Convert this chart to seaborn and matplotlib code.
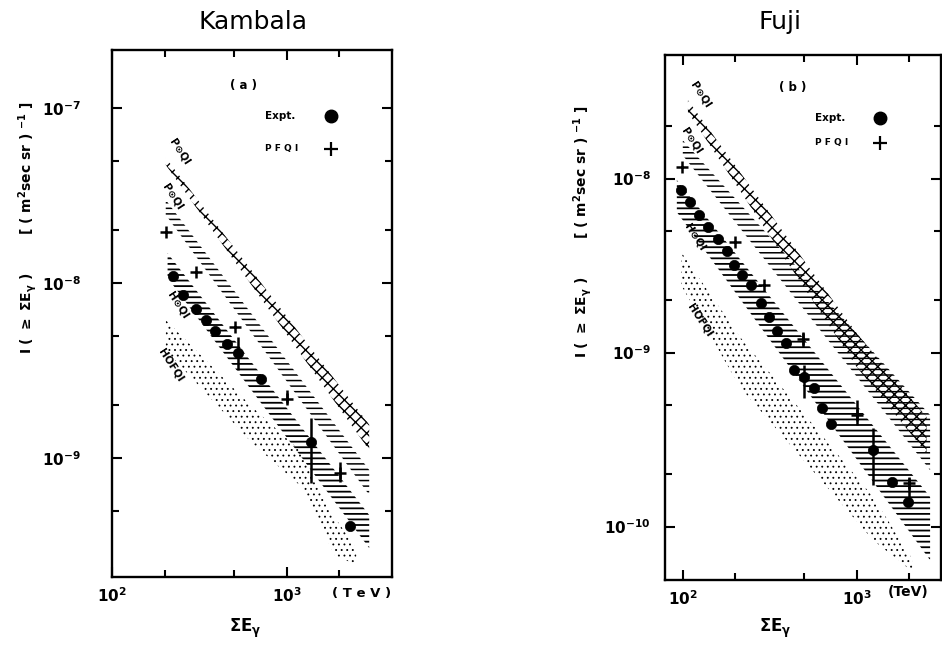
import numpy as np
import pandas as pd
import matplotlib
matplotlib.use("Agg")
import matplotlib.pyplot as plt
import seaborn as sns
from matplotlib.ticker import FixedLocator, FuncFormatter, NullFormatter
from matplotlib.lines import Line2D

# ---------------- Kambala (a) ----------------
kam_expt_E = [222, 256, 301, 343, 387, 453, 527, 711, 1374, 2290]
kam_expt_I = [1.09e-8, 8.54e-9, 7.08e-9, 6.14e-9, 5.31e-9, 4.50e-9, 3.96e-9,
              2.82e-9, 1.24e-9, 4.09e-10]
kam_expt_err_E = [527, 1374]
kam_expt_err_lo = [3.18e-9, 7.2e-10]
kam_expt_err_hi = [4.91e-9, 1.69e-9]

kam_pfqi_E = [203, 301, 508, 1000, 2010]
kam_pfqi_I = [1.96e-8, 1.15e-8, 5.58e-9, 2.18e-9, 8.2e-10]
kam_pfqi_err_E = [1000, 2010]
kam_pfqi_err_lo = [2.06e-9, 7.3e-10]
kam_pfqi_err_hi = [2.45e-9, 9.49e-10]

kam_b1_E = [203, 2962]
kam_b1_hi = [5.18e-8, 1.55e-9]
kam_b1_lo = [4.72e-8, 1.11e-9]
kam_b2_E = [203, 2962]
kam_b2_hi = [2.98e-8, 8.54e-10]
kam_b2_lo = [2.45e-8, 6.15e-10]
kam_b3_E = [208, 2962]
kam_b3_hi = [1.48e-8, 4.72e-10]
kam_b3_lo = [1.07e-8, 3.06e-10]
kam_b4_E = [203, 632, 1217, 1874, 2499]
kam_b4_hi = [6.15e-9, 1.96e-9, 1.08e-9, 4.6e-10, 3.06e-10]
kam_b4_lo = [4.14e-9, 1.22e-9, 6.83e-10, 2.79e-10, 2.45e-10]

kam_label_text = ["P\u2299QI", "P\u2299QI", "H\u2299QI", "HOFQI"]
kam_label_E = [243, 222, 237, 216]
kam_label_I = [5.61e-8, 3.1e-8, 7.49e-9, 3.40e-9]

kam_xticks = [100, 1000]
kam_xminor = [200, 500, 2000]
kam_yticks = [1e-9, 1e-8, 1e-7]
kam_yminor = [5e-10, 2e-9, 5e-9, 2e-8, 5e-8]

# ---------------- Fuji (b) ----------------
fuji_expt_E = [97.4, 110, 124, 140, 158.5, 180, 197, 218, 246, 282.5, 313, 348,
               392.5, 436, 498, 569, 630, 712, 1246, 1589, 1980]
fuji_expt_I = [8.59e-9, 7.36e-9, 6.17e-9, 5.28e-9, 4.49e-9, 3.83e-9, 3.18e-9,
               2.79e-9, 2.44e-9, 1.92e-9, 1.60e-9, 1.33e-9, 1.14e-9, 7.94e-10,
               7.2e-10, 6.22e-10, 4.78e-10, 3.88e-10, 2.75e-10, 1.81e-10, 1.39e-10]
fuji_expt_err_E = [498, 1246]
fuji_expt_err_lo = [5.48e-10, 1.73e-10]
fuji_expt_err_hi = [8.47e-10, 3.68e-10]

fuji_pfqi_E = [98.7, 200, 293, 493, 1000, 2000]
fuji_pfqi_I = [1.17e-8, 4.34e-9, 2.44e-9, 1.19e-9, 4.38e-10, 1.78e-10]
fuji_pfqi_err_E = [493, 1000, 2000]
fuji_pfqi_err_lo = [1.08e-9, 3.83e-10, 1.33e-10]
fuji_pfqi_err_hi = [1.32e-9, 5.33e-10, 1.90e-10]

fuji_b1_E = [107, 1000, 2520]
fuji_b1_hi = [2.82e-8, 1.29e-9, 4.26e-10]
fuji_b1_lo = [2.41e-8, 8.26e-10, 2.64e-10]
fuji_b2_E = [100, 2640]
fuji_b2_hi = [1.66e-8, 4.37e-10]
fuji_b2_lo = [1.36e-8, 2.11e-10]
fuji_b3_E = [92.4, 2640]
fuji_b3_hi = [9.8e-9, 1.48e-10]
fuji_b3_lo = [6.42e-9, 6.41e-11]
fuji_b4_E = [97.8, 213, 1241, 2104]
fuji_b4_hi = [3.78e-9, 1.23e-9, 1.48e-10, 6.41e-11]
fuji_b4_lo = [2.44e-9, 6.34e-10, 8.36e-11, 5.48e-11]

fuji_label_text = ["P\u2299QI", "P\u2299QI", "H\u2299QI", "HOFQI"]
fuji_label_E = [126, 113, 118, 126]
fuji_label_I = [3.02e-8, 1.66e-8, 4.61e-9, 1.54e-9]

fuji_xticks = [100, 1000]
fuji_xminor = [200, 500, 2000]
fuji_yticks = [1e-10, 1e-9, 1e-8]
fuji_yminor = [2e-10, 5e-10, 2e-9, 5e-9, 2e-8]

# ---------------- styling ----------------
sns.set_style("ticks")
plt.rcParams["font.family"] = ["DejaVu Sans"]
plt.rcParams["font.weight"] = "bold"
plt.rcParams["mathtext.default"] = "bf"
plt.rcParams["text.color"] = "black"
plt.rcParams["axes.labelcolor"] = "black"

W, H = 942, 651
fig = plt.figure(figsize=(W / 100, H / 100), dpi=100)
axL = fig.add_axes([112 / W, 1 - 577 / H, 280 / W, 527 / H])
axR = fig.add_axes([665 / W, 1 - 580 / H, 276 / W, 525 / H])


def fx(px):
    return px / W


def fy(py):
    return 1 - py / H


def decade_label(v, pos):
    e = int(round(np.log10(v)))
    return r"$\mathbf{10^{%d}}$" % e


def style_axis(ax, xlim, ylim, xt, xm, yt, ym, ypad):
    ax.set_xscale("log")
    ax.set_yscale("log")
    ax.set_xlim(*xlim)
    ax.set_ylim(*ylim)
    for sp in ax.spines.values():
        sp.set_visible(True)
        sp.set_linewidth(1.7)
        sp.set_color("black")
    for axis, major, minor in ((ax.xaxis, xt, xm), (ax.yaxis, yt, ym)):
        axis.set_major_locator(FixedLocator(major))
        axis.set_minor_locator(FixedLocator(minor))
        axis.set_minor_formatter(NullFormatter())
        axis.set_major_formatter(FuncFormatter(decade_label))
        axis.label.set_visible(False)
    ax.tick_params(which="both", direction="in", top=True, right=True,
                   width=1.5, colors="black", labelsize=11)
    ax.tick_params(which="major", length=7)
    ax.tick_params(which="minor", length=5)
    ax.tick_params(axis="y", which="major", pad=ypad)
    ax.tick_params(axis="x", which="major", pad=7)


def band(ax, E, lo, hi, hatch, lw):
    coll = ax.fill_between(E, lo, hi, facecolor="none", edgecolor="black",
                           linewidth=0, hatch=hatch)
    if hasattr(coll, "set_hatch_linewidth"):
        coll.set_hatch_linewidth(lw)
    return coll


def draw_panel(ax, bands, expt_E, expt_I, ee_E, ee_lo, ee_hi,
               pf_E, pf_I, pe_E, pe_lo, pe_hi, lab_t, lab_E, lab_I):
    hatches = [("xxx", 1.0), ("---", 1.1), ("---", 1.3), ("...", 0.6)]
    for (E, lo, hi), (h, lw) in zip(bands, hatches):
        band(ax, E, lo, hi, h, lw)

    df_expt = pd.DataFrame({"E": expt_E, "I": expt_I})
    df_pf = pd.DataFrame({"E": pf_E, "I": pf_I})
    ax.vlines(ee_E, ee_lo, ee_hi, color="black", lw=1.8)
    ax.vlines(pe_E, pe_lo, pe_hi, color="black", lw=1.8)
    sns.scatterplot(data=df_expt, x="E", y="I", ax=ax, marker="o", s=55,
                    color="black", edgecolor="black", linewidth=0.5,
                    legend=False, zorder=5)
    sns.scatterplot(data=df_pf, x="E", y="I", ax=ax, marker="+", s=75,
                    color="black", linewidth=1.8, legend=False, zorder=5)
    for t, e, i in zip(lab_t, lab_E, lab_I):
        ax.text(e, i, t, rotation=-57, ha="center", va="center",
                fontsize=7.5, fontweight="bold", zorder=6)


draw_panel(axL,
           [(kam_b1_E, kam_b1_lo, kam_b1_hi), (kam_b2_E, kam_b2_lo, kam_b2_hi),
            (kam_b3_E, kam_b3_lo, kam_b3_hi), (kam_b4_E, kam_b4_lo, kam_b4_hi)],
           kam_expt_E, kam_expt_I, kam_expt_err_E, kam_expt_err_lo, kam_expt_err_hi,
           kam_pfqi_E, kam_pfqi_I, kam_pfqi_err_E, kam_pfqi_err_lo, kam_pfqi_err_hi,
           kam_label_text, kam_label_E, kam_label_I)
draw_panel(axR,
           [(fuji_b1_E, fuji_b1_lo, fuji_b1_hi), (fuji_b2_E, fuji_b2_lo, fuji_b2_hi),
            (fuji_b3_E, fuji_b3_lo, fuji_b3_hi), (fuji_b4_E, fuji_b4_lo, fuji_b4_hi)],
           fuji_expt_E, fuji_expt_I, fuji_expt_err_E, fuji_expt_err_lo, fuji_expt_err_hi,
           fuji_pfqi_E, fuji_pfqi_I, fuji_pfqi_err_E, fuji_pfqi_err_lo, fuji_pfqi_err_hi,
           fuji_label_text, fuji_label_E, fuji_label_I)

style_axis(axL, (100, 4000), (2.09e-10, 2.14e-7),
           kam_xticks, kam_xminor, kam_yticks, kam_yminor, 22)
style_axis(axR, (79, 3050), (4.93e-11, 5.13e-8),
           fuji_xticks, fuji_xminor, fuji_yticks, fuji_yminor, 10)

# titles, panel tags, axis titles
fig.text(fx(253), fy(22), "Kambala", ha="center", va="center", fontsize=18,
         fontweight="normal")
fig.text(fx(780), fy(22), "Fuji", ha="center", va="center", fontsize=18,
         fontweight="normal")
fig.text(fx(244), fy(86), "( a )", ha="center", va="center", fontsize=8.5)
fig.text(fx(793), fy(87), "( b )", ha="center", va="center", fontsize=8.5)

ylab = r"I ( $\geq$ $\Sigma$E$_{\gamma}$ )        [ ( m$^{2}$sec sr ) $^{-1}$ ]"
fig.text(fx(28), fy(228), ylab, rotation=90, ha="center", va="center", fontsize=10)
fig.text(fx(583), fy(232), ylab, rotation=90, ha="center", va="center", fontsize=10)
fig.text(fx(245), fy(628), r"$\Sigma$E$_{\gamma}$", ha="center", va="center", fontsize=12)
fig.text(fx(775), fy(628), r"$\Sigma$E$_{\gamma}$", ha="center", va="center", fontsize=12)
fig.text(fx(362), fy(594), "( T e V )", ha="center", va="center", fontsize=9.5)
fig.text(fx(908), fy(592), "(TeV)", ha="center", va="center", fontsize=10)

# legend keys
for (tx, ty1, ty2, mx) in [(265, 116, 149, 331), (815, 118, 143, 880)]:
    fig.text(fx(tx), fy(ty1), "Expt.", ha="left", va="center", fontsize=7.5)
    fig.text(fx(tx), fy(ty2), "P F Q I", ha="left", va="center", fontsize=6.5)
    fig.add_artist(Line2D([fx(mx)], [fy(ty1)], marker="o", markersize=9,
                          color="black", transform=fig.transFigure))
    fig.add_artist(Line2D([fx(mx)], [fy(ty2)], marker="+", markersize=10,
                          markeredgewidth=1.6, color="black",
                          transform=fig.transFigure))

fig.savefig("out.png", dpi=100)
